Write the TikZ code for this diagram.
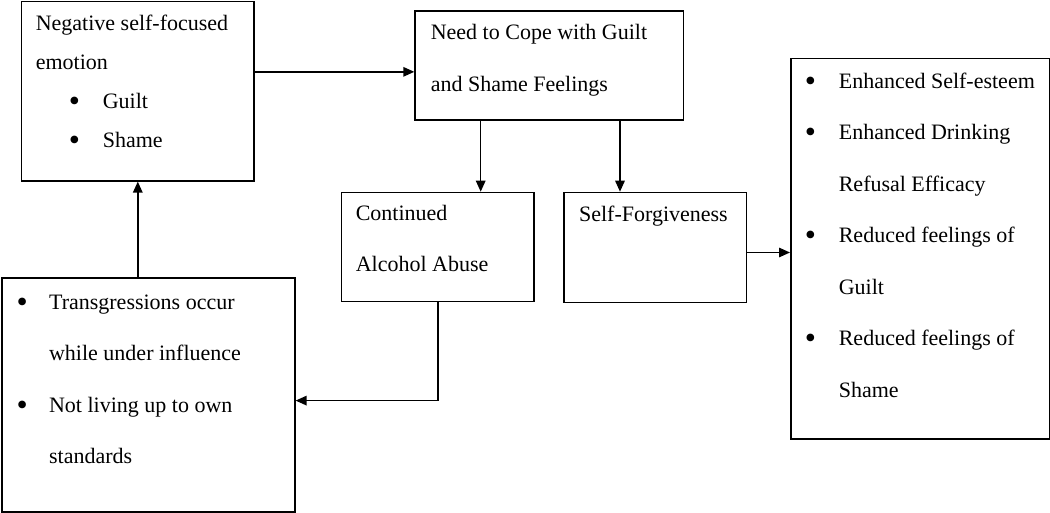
\documentclass[tikz,border=0pt]{standalone}
\usepackage{fontspec}
\usepackage{graphicx}
\setmainfont{Liberation Serif}
\usetikzlibrary{arrows.meta,calc}

% box text: width, height, left pad, first baseline, lines
\newcommand{\boxtxt}[5]{\parbox[t][#2][t]{#1}{\raggedright\leftskip=#3\relax\rule{0pt}{#4}#5}}
\newcommand{\bul}[2]{\hspace*{#1}\makebox[#2][l]{\raisebox{-3.2pt}{\scalebox{1.45}{\textbullet}}}}

\begin{document}
\begin{tikzpicture}[x=1pt, y=-1pt,
    blk/.style={draw, line width=1.6pt, inner sep=0pt, anchor=north west, font=\fontsize{22}{51.5}\selectfont},
    arr/.style={-{Triangle[length=11pt,width=9.5pt]}, line width=1.5pt}
]
\useasboundingbox (0,0) rectangle (1050,513);

\node[blk, font=\fontsize{22}{39}\selectfont] (emo) at (20.7,0.8) {\boxtxt{232.6pt}{179.2pt}{14.3pt}{29pt}{Negative self-focused\\emotion\\\bul{33pt}{34pt}Guilt\\\bul{33pt}{34pt}Shame}};
\node[blk] (cope) at (414.3,10) {\boxtxt{268.4pt}{109.3pt}{15.7pt}{29pt}{Need to Cope with Guilt\\and Shame Feelings}};
\node[blk] (abuse) at (340.7,191.7) {\boxtxt{192.6pt}{108.8pt}{14.3pt}{27.6pt}{Continued\\Alcohol Abuse}};
\node[blk] (forgive) at (563.3,191.7) {\boxtxt{182.4pt}{110pt}{15pt}{29pt}{Self-Forgiveness}};
\node[blk] (outcome) at (790,57.7) {\boxtxt{258.5pt}{380.3pt}{14pt}{29.6pt}{\bul{0pt}{34pt}Enhanced Self-esteem\\\bul{0pt}{34pt}Enhanced Drinking\\\hspace*{34pt}Refusal Efficacy\\\bul{0pt}{34pt}Reduced feelings of\\\hspace*{34pt}Guilt\\\bul{0pt}{34pt}Reduced feelings of\\\hspace*{34pt}Shame}};
\node[blk] (trans) at (1,277.3) {\boxtxt{293pt}{234pt}{14.8pt}{31pt}{\bul{0pt}{32.5pt}Transgressions occur\\\hspace*{32.5pt}while under influence\\\bul{0pt}{32.5pt}Not living up to own\\\hspace*{32.5pt}standards}};

\coordinate (c1) at ([yshift=-6.4pt]cope.west);
\coordinate (c2) at ([xshift=66.4pt]cope.south west);
\coordinate (c3) at ([xshift=205.7pt]cope.south west);
\coordinate (c4) at ([yshift=-5pt]forgive.east);
\coordinate (c5) at ([yshift=-5.5pt]trans.east);

\draw[arr] (emo.east |- c1) -- (c1);
\draw[arr] (c2) -- (c2 |- abuse.north);
\draw[arr] (c3) -- (c3 |- forgive.north);
\draw[arr] (c4) -- (c4 -| outcome.west);
\draw[arr] (abuse.south) |- (c5);
\draw[arr] (emo.south |- trans.north) -- (emo.south);
\end{tikzpicture}
\end{document}
